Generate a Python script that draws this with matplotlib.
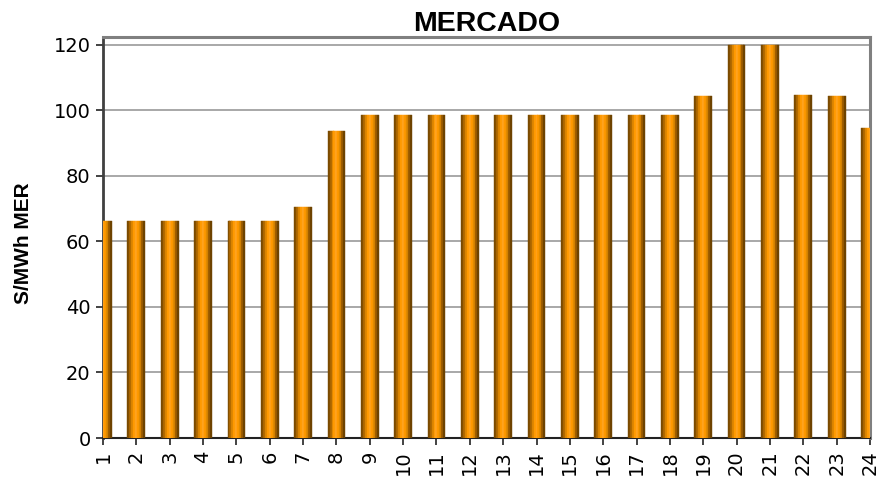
import matplotlib
matplotlib.use("Agg")
import matplotlib.pyplot as plt
import numpy as np

hours = list(range(1, 25))
prices = [66.1, 66.1, 66.1, 66.1, 66.1, 66.1, 70.4, 93.6, 98.4, 98.4, 98.4, 98.4,
          98.4, 98.4, 98.4, 98.4, 98.4, 98.4, 104.2, 119.9, 119.9, 104.5, 104.2, 94.5]
yticks = [0, 20, 40, 60, 80, 100, 120]
title = "MERCADO"
ylabel = "S/MWh MER"

# cylinder-like shading stripes across each bar
stripe_colors = ["#7a4a00", "#a86400", "#d98300", "#ff9900", "#ffa31f",
                 "#ff9900", "#e08a00", "#a05e00", "#6e4300"]

fig = plt.figure(figsize=(8.82, 4.83), dpi=100)
ax = fig.add_axes([103/882, 1-438/483, (870-103)/882, (438-37.3)/483])

x = np.array(hours, dtype=float)
width = 0.53
n = len(stripe_colors)
sw = width / n
for i, c in enumerate(stripe_colors):
    off = -width/2 + sw*(i+0.5)
    ax.bar(x + off, prices, width=sw*1.02, color=c, edgecolor=c, linewidth=0.3, zorder=3)

ax.set_xlim(1, 24)
ax.set_ylim(0, 122.2)
ax.set_yticks(yticks)
ax.set_xticks(hours)
ax.set_xticklabels([str(h) for h in hours], rotation=90, fontsize=14, family="DejaVu Sans")
ax.set_yticklabels([str(v) for v in yticks], fontsize=14, family="DejaVu Sans")
ax.tick_params(axis="both", direction="out", length=5, width=1.2, color="#222222", pad=4)
ax.yaxis.grid(True, color="#999999", linewidth=1.2, zorder=0)
ax.set_axisbelow(True)

ax.spines["top"].set_color("#808080")
ax.spines["top"].set_linewidth(2.2)
ax.spines["right"].set_color("#808080")
ax.spines["right"].set_linewidth(2.2)
ax.spines["left"].set_color("#404040")
ax.spines["left"].set_linewidth(2)
ax.spines["bottom"].set_color("#222222")
ax.spines["bottom"].set_linewidth(1.5)

ax.set_title(title, fontsize=20.5, fontweight="bold", family="Liberation Sans", pad=4)
ax.set_ylabel(ylabel, fontsize=15, fontweight="bold", family="Liberation Sans")
ax.yaxis.set_label_coords(-0.091, 0.487)

fig.savefig("out.png", dpi=100)
